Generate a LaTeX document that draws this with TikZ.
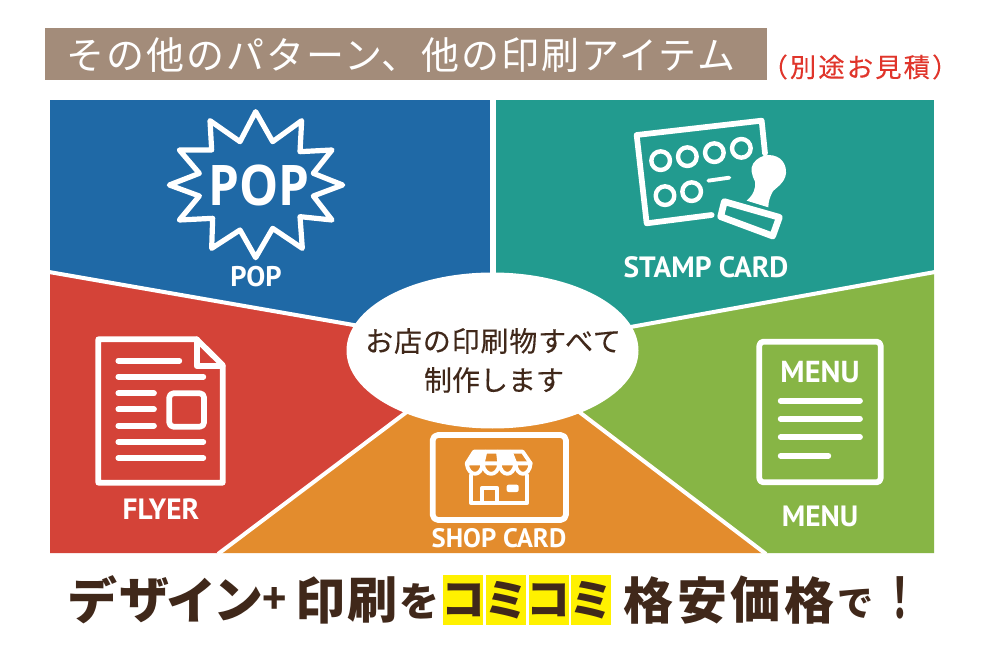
\documentclass[tikz,border=0pt]{standalone}
\usepackage{fontspec}
\usetikzlibrary{shapes.geometric}
\newfontfamily\jpfont{Noto Sans CJK JP}
\newfontfamily\jphead[LetterSpace=5.2]{Noto Sans CJK JP}
\newfontfamily\jpnote[LetterSpace=8,FakeBold=0.15]{Noto Sans CJK JP}
\newfontfamily\jpmid[LetterSpace=3,FakeBold=0.2]{Noto Sans CJK JP}
\newfontfamily\jpmidb[FakeBold=0.2]{Noto Sans CJK JP}
\newfontfamily\latfont{PT Sans}
\newfontfamily\popfont{Open Sans}
\definecolor{cblue}{HTML}{1F69A6}
\definecolor{cteal}{HTML}{229B8F}
\definecolor{cred}{HTML}{D44338}
\definecolor{corange}{HTML}{E38C2D}
\definecolor{cgreen}{HTML}{87B545}
\definecolor{cbar}{HTML}{A38C7A}
\definecolor{cbrown}{HTML}{40281A}
\definecolor{cnote}{HTML}{E0352B}
\definecolor{cyel}{HTML}{FFF100}
\newcommand{\jpb}[1]{\jpfont\bfseries\fontsize{#1}{#1}\selectfont}
\newcommand{\latb}[1]{\latfont\bfseries\fontsize{#1}{#1}\selectfont}
\tikzset{
  x=0.75pt,y=-0.75pt,
  ink/.style={draw=white,line width=4.3pt,line cap=round,line join=round},
  fine ink/.style={draw=white,line width=2.9pt,line cap=round,line join=round},
  divider/.style={draw=white,line width=3pt},
  zoomed/.style={x=0.25pt,y=-0.25pt},
  panel label/.style={text=white,inner sep=0pt,font=\latb{22}},
  big/.style={text=cbrown,inner sep=0pt,font=\jpb{37.5}},
  yellowbox/.style={fill=cyel},
}
\begin{document}
\begin{tikzpicture}
\useasboundingbox (0,0) rectangle (982,652);
\fill[white] (0,0) rectangle (982,652);
% header
\fill[cbar] (45,28) rectangle (767,80);
\node[text=white,inner sep=0pt,font=\jphead\fontsize{28.5}{28.5}\selectfont] (head) at (401,55) {その他のパターン、他の印刷アイテム};
\node[text=cnote,inner sep=0pt,font=\jpnote\fontsize{19.75}{19.75}\selectfont] (note) at (860,67) {（別途お見積）};
% panels
\fill[cblue] (50,100) rectangle (493,330);
\fill[cteal] (493,100) rectangle (934,330);
\fill[cred] (50,272) -- (357,325) -- (430,400) -- (218,553) -- (50,553) -- cycle;
\fill[cgreen] (934,272) -- (630,327) -- (560,400) -- (767,553) -- (934,553) -- cycle;
\fill[corange] (407,410) -- (580,410) -- (767,553) -- (218,553) -- cycle;
\draw[divider,line width=4.5pt] (493,99) -- (493,300);
\draw[divider] (49,272) -- (365,327);
\draw[divider] (935,272) -- (625,328);
\draw[divider] (412,408) -- (218,554);
\draw[divider] (574,408) -- (766,554);
\node[ellipse,fill=white,minimum width=219pt,minimum height=117pt,inner sep=0pt] (center) at (492.5,350.5) {};
\node[text=cbrown,inner sep=0pt,font=\jpmid\fontsize{21}{21}\selectfont] (c1) at (493,341) {お店の印刷物すべて};
\node[text=cbrown,inner sep=0pt,font=\jpmidb\fontsize{21}{21}\selectfont] (c2) at (494,380) {制作します};
% POP
\begin{scope}[shift={(120,90)},zoomed]
\draw[ink,line width=3.9pt] (407,65) -- (458,155) -- (545,92) -- (540,185) -- (636,180) -- (580,250) -- (668,285) -- (580,318) -- (636,390) -- (540,380) -- (547,475) -- (458,415) -- (407,503) -- (360,420) -- (275,475) -- (278,385) -- (178,390) -- (238,318) -- (148,285) -- (238,250) -- (178,180) -- (275,180) -- (270,92) -- (360,155) -- cycle;
\end{scope}
\node[text=white,inner sep=0pt,font=\popfont\bfseries\fontsize{42}{42}\selectfont] (popicon) at (259,185) {\scalebox{0.88}[1]{POP}};
\node[panel label,font=\latb{21.3}] (poplabel) at (256,277) {POP};
% STAMP
\begin{scope}[shift={(600,100)},zoomed]
\draw[ink] (495,160) -- (485,62) -- (110,105) -- (140,370) -- (335,345);
\foreach \p in {(182,182),(262,170),(343,158),(424,145),(195,287),(275,275)}
  \draw[fine ink,line width=3.3pt] \p circle (28);
\draw[fine ink] (325,242) -- (388,233);
\fill[white] (505,165) .. controls (545,165) and (560,195) .. (558,220) .. controls (555,250) and (525,265) .. (518,275) .. controls (510,290) and (505,305) .. (505,322) -- (440,302) .. controls (460,285) and (468,265) .. (465,245) .. controls (455,225) and (450,205) .. (460,190) .. controls (470,175) and (490,165) .. (505,165) -- cycle;
\draw[ink,fill=cteal,line width=5pt] (373,305) -- (538,352) -- (518,408) -- (362,350) -- cycle;
\end{scope}
\node[panel label] (stamplabel) at (706,267) {STAMP CARD};
% FLYER
\begin{scope}[shift={(80,320)},zoomed]
\draw[ink] (55,58) -- (350,58) -- (428,135) -- (428,488) -- (55,488) -- cycle;
\draw[ink] (350,58) -- (350,138) -- (428,138);
\foreach \a/\b/\c in {115/298/122,115/370/170,115/222/220,115/222/268,115/222/317,115/370/366,115/370/414}
  \draw[ink] (\a,\c) -- (\b,\c);
\draw[ink,rounded corners=3pt] (268,220) rectangle (372,320);
\end{scope}
\node[panel label] (flyerlabel) at (161,509) {FLYER};
% SHOP
\begin{scope}[shift={(410,420)},zoomed]
\draw[ink,rounded corners=4pt] (68,45) rectangle (468,300);
\draw[fine ink] (170,130) -- (192,95) -- (338,95) -- (362,130);
\draw[fine ink] (170,130) .. controls (175,172) and (215,172) .. (218,130) .. controls (222,172) and (265,172) .. (268,130) .. controls (272,172) and (312,172) .. (316,130) .. controls (320,172) and (358,172) .. (362,130) -- cycle;
\draw[fine ink] (226,95) -- (218,130) (264,95) -- (268,130) (302,95) -- (316,130);
\fill[white] (192,95) -- (226,95) -- (218,130) -- (170,130) -- cycle;
\fill[white] (264,95) -- (302,95) -- (316,130) -- (268,130) -- cycle;
\draw[fine ink] (184,165) -- (184,250) -- (350,250) -- (350,165);
\draw[fine ink] (215,248) -- (215,205) -- (262,205) -- (262,248);
\fill[white,rounded corners=1.5pt] (290,194) rectangle (326,216);
\end{scope}
\node[panel label,font=\latb{20}] (shoplabel) at (499,538) {SHOP CARD};
% MENU
\begin{scope}[shift={(740,325)},zoomed]
\draw[ink,rounded corners=3pt] (58,50) rectangle (422,472);
\draw[ink] (122,227) -- (360,227);
\draw[ink] (122,281) -- (360,281);
\draw[ink] (122,336) -- (360,336);
\draw[ink] (122,392) -- (265,392);
\end{scope}
\node[panel label,font=\latb{22.75}] (menuicon) at (820,372) {MENU};
\node[panel label] (menulabel) at (820,516) {MENU};
% bottom line
\foreach \a in {443,486,528.5,571}
  \fill[yellowbox] (\a,575) rectangle +(40,50);
\node[big] (d1) at (92,600) {デ};
\node[big] (d2) at (144,600) {ザ};
\node[big] (d3) at (191,600) {イ};
\node[big] (d4) at (238,600) {ン};
\node[big,font=\jpb{30}] (d5) at (275,600) {+};
\node[big] (d6) at (320,600) {印};
\node[big] (d7) at (372,600) {刷};
\node[big,font=\jpb{30}] (d8) at (419,601) {を};
\node[big,font=\jpb{33}] (k1) at (463,600) {コ};
\node[big,font=\jpb{33}] (k2) at (506,600) {ミ};
\node[big,font=\jpb{33}] (k3) at (548.5,600) {コ};
\node[big,font=\jpb{33}] (k4) at (591,600) {ミ};
\node[big] (e1) at (648,600) {格};
\node[big] (e2) at (702,600) {安};
\node[big] (e3) at (755,600) {価};
\node[big] (e4) at (809,600) {格};
\node[big,font=\jpb{27}] (e5) at (855,604) {で};
\node[big,font=\jpb{42}] (e6) at (900,598) {\scalebox{0.6}[1]{！}};
\end{tikzpicture}
\end{document}
